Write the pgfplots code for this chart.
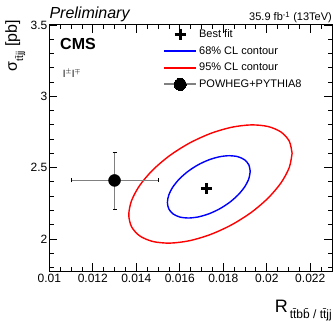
\documentclass[border=0pt]{standalone}
\usepackage{fontspec}
\setmainfont{Liberation Sans}
\usepackage{pgfplots}
\pgfplotsset{compat=1.18}
\begin{document}
\begin{tikzpicture}
\begin{axis}[
  scale only axis, width=282.7pt, height=246pt,
  xmin=0.01, xmax=0.023, ymin=1.775, ymax=3.5,
  clip=false,
  xtick={0.01,0.012,0.014,0.016,0.018,0.02,0.022},
  xticklabels={0.01,0.012,0.014,0.016,0.018,0.02,0.022},
  ytick={2,2.5,3,3.5},
  yticklabels={2,2.5,3,3.5},
  minor xtick={0.0105,0.011,0.0115,0.0125,0.013,0.0135,0.0145,0.015,0.0155,0.0165,0.017,0.0175,0.0185,0.019,0.0195,0.0205,0.021,0.0215,0.0225},
  minor ytick={1.8,1.9,2.1,2.2,2.3,2.4,2.6,2.7,2.8,2.9,3.1,3.2,3.3,3.4},
  tick align=inside, xtick pos=both, ytick pos=both,
  major tick length=8pt, minor tick length=4.5pt,
  every tick/.style={black, line width=0.8pt},
  axis line style={line width=1pt},
  tick label style={font=\fontsize{12}{14}\selectfont},
  yticklabel style={xshift=1.5pt},
  scaled ticks=false,
  legend image code/.code={\draw[mark repeat=2, mark phase=2, #1] plot coordinates {(0pt,0pt) (16pt,0pt) (32pt,0pt)};},
  legend style={at={(rel axis cs:0.402,0.99)}, anchor=north west, draw=none, fill=none,
    font=\fontsize{11}{13}\selectfont, row sep=3.45pt, inner sep=0pt},
  legend cell align=left,
]
\addlegendimage{black, only marks, mark=+, mark size=5.5pt, mark options={line width=3pt}}
\addlegendentry{Best fit}
\addlegendimage{color=blue, line width=2pt, no marks}
\addlegendentry{68\% CL contour}
\addlegendimage{color=red, line width=2pt, no marks}
\addlegendentry{95\% CL contour}
\addlegendimage{gray, line width=2pt, mark=*, mark size=6pt, mark options={draw=black, fill=black, line width=0pt}}
\addlegendentry{POWHEG+PYTHIA8}
% 68% CL contour
\addplot[blue, line width=1.4pt, smooth, no marks, forget plot]
  coordinates {
  (0.019239,2.4743) (0.019174,2.5195) (0.018984,2.5542) (0.018681,2.5761)
  (0.018287,2.5835) (0.017828,2.5760) (0.017335,2.5542) (0.016842,2.5195)
  (0.016383,2.4742) (0.015989,2.4216) (0.015686,2.3650) (0.015496,2.3084)
  (0.015431,2.2558) (0.015496,2.2105) (0.015686,2.1758) (0.015989,2.1540)
  (0.016383,2.1465) (0.016842,2.1540) (0.017335,2.1758) (0.017828,2.2105)
  (0.018287,2.2558) (0.018681,2.3085) (0.018984,2.3650) (0.019174,2.4216)
  (0.019239,2.4743)};
% 95% CL contour
\addplot[red, line width=1.4pt, smooth, no marks, forget plot]
  coordinates {
  (0.021165,2.6006) (0.021037,2.6849) (0.020662,2.7488) (0.020065,2.7879)
  (0.019288,2.7995) (0.018382,2.7829) (0.017410,2.7392) (0.016438,2.6713)
  (0.015532,2.5839) (0.014755,2.4829) (0.014158,2.3753) (0.013783,2.2684)
  (0.013655,2.1694) (0.013783,2.0851) (0.014158,2.0212) (0.014755,1.9821)
  (0.015532,1.9705) (0.016438,1.9871) (0.017410,2.0309) (0.018382,2.0987)
  (0.019288,2.1861) (0.020065,2.2871) (0.020662,2.3947) (0.021037,2.5016)
  (0.021165,2.6006)};
% Best fit
\addplot[only marks, black, mark=+, mark size=5.5pt, mark options={line width=3pt}, forget plot]
  coordinates {(0.01722,2.354)};
% POWHEG+PYTHIA8
\addplot[only marks, black, mark=*, mark size=6pt, forget plot,
  error bars/.cd, x dir=both, y dir=both, x explicit, y explicit,
  error bar style={gray, line width=1.8pt},
  error mark options={black, line width=0.8pt, mark size=2pt, rotate=90}]
  coordinates {(0.013,2.41) +- (0.002,0.2)};
\node[anchor=south west, inner sep=0pt, font=\fontsize{16}{18}\selectfont\itshape]
  at ([yshift=3pt]rel axis cs:0,1) {Preliminary};
\node[anchor=base east, inner sep=0pt, font=\fontsize{11}{13}\selectfont]
  at ([yshift=4pt]rel axis cs:1,1) {35.9 fb\textsuperscript{-1} (13TeV)};
\node[anchor=north west, inner sep=0pt, font=\fontsize{16}{18}\selectfont\bfseries]
  at (rel axis cs:0.038,0.947) {CMS};
\node[anchor=north west, inner sep=0pt, font=\fontsize{10}{12}\selectfont]
  at (rel axis cs:0.048,0.82) {l$^{\pm}$l$^{\mp}$};
\node[anchor=base east, inner sep=0pt, font=\fontsize{18}{20}\selectfont]
  at ([yshift=-41pt]rel axis cs:1,0)
  {R\hspace{2pt}\raisebox{-6pt}{\fontsize{12}{14}\selectfont t\=tb\=b / t\=tjj}};
\node[anchor=base east, rotate=90, inner sep=0pt, font=\fontsize{16}{18}\selectfont]
  at ([xshift=-32.3pt,yshift=5pt]rel axis cs:0,1)
  {σ\raisebox{-6pt}{\fontsize{10}{12}\selectfont t\=tjj} [pb]};
\coordinate (bl) at (rel axis cs:0,0);
\coordinate (tr) at (rel axis cs:1,1);
\end{axis}
\pgfresetboundingbox
\path[use as bounding box] ([shift={(-49.3pt,-49pt)}]bl) rectangle ([shift={(1pt,25pt)}]tr);
\end{tikzpicture}
\end{document}
